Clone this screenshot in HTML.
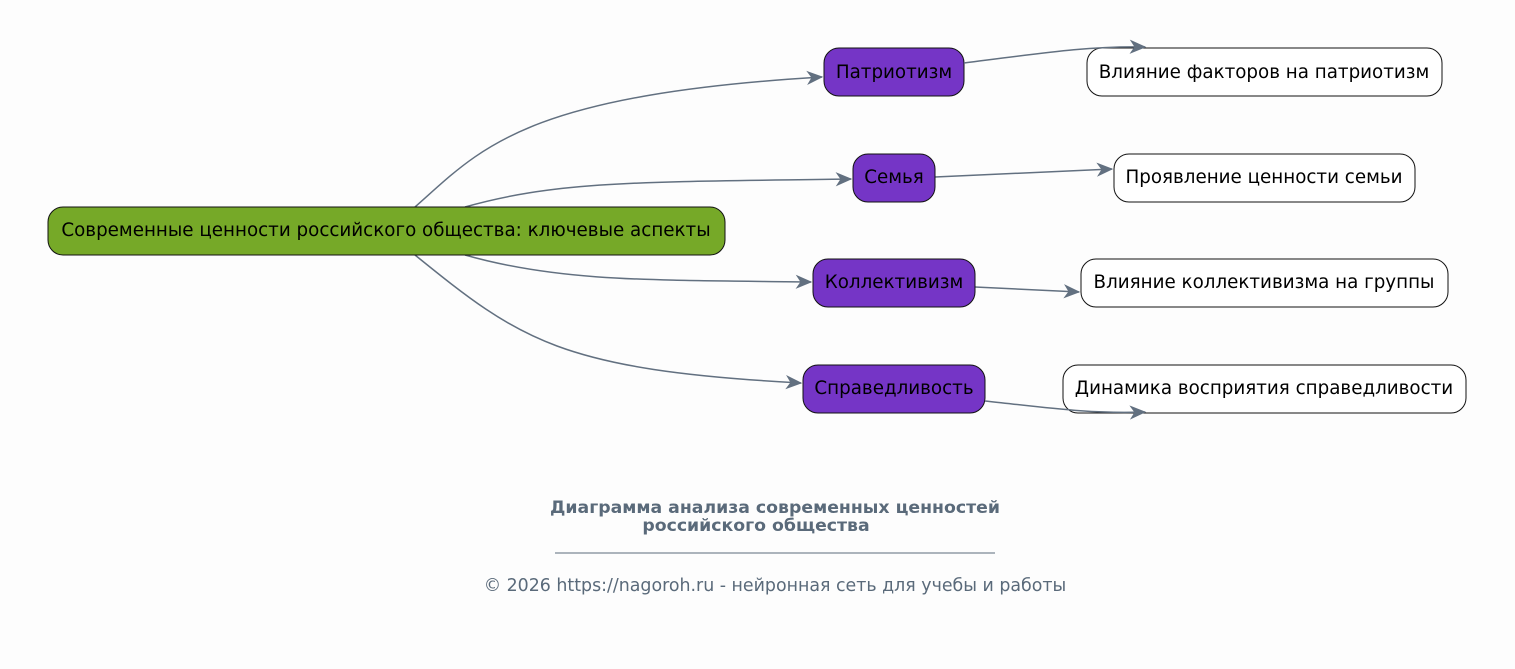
<!DOCTYPE html>
<html><head><meta charset="utf-8"><style>
html,body{margin:0;padding:0;background:#fdfdfd;}
svg{display:block;font-family:"DejaVu Sans","Liberation Sans",sans-serif;}
</style></head><body>
<svg width="1515" height="669" viewBox="0 0 1515 669" xmlns="http://www.w3.org/2000/svg">
<defs>
<marker id="a" markerWidth="18" markerHeight="16" refX="16" refY="8" orient="auto" markerUnits="userSpaceOnUse">
<path d="M2,2 L16,8 L2,14 L6,8 Z" fill="#627080" stroke="#627080" stroke-width="1"/>
</marker>
</defs>
<g fill="none" stroke="#627080" stroke-width="1.5" marker-end="url(#a)">
<path d="M415,207 C480,150 520,95 822,77"/>
<path d="M465,207 C560,180 650,182 851,179"/>
<path d="M465,255 C560,282 650,280 811,282"/>
<path d="M415,255 C520,340 560,370 801,383"/>
<path d="M935,177 L1112,169"/>
<path d="M975,287 L1079,292"/>
</g>
<g stroke="#111" stroke-width="1">
<rect x="48" y="207" width="677" height="48" rx="15" fill="#76a928"/>
<rect x="824" y="48" width="140" height="48" rx="15" fill="#7535c6"/>
<rect x="853" y="154" width="82" height="48" rx="15" fill="#7535c6"/>
<rect x="813" y="259" width="162" height="48" rx="15" fill="#7535c6"/>
<rect x="803" y="365" width="182" height="48" rx="15" fill="#7535c6"/>
<rect x="1087" y="48" width="355" height="48" rx="15" fill="#fff"/>
<rect x="1114" y="154" width="301" height="48" rx="15" fill="#fff"/>
<rect x="1081" y="259" width="367" height="48" rx="15" fill="#fff"/>
<rect x="1063" y="365" width="403" height="48" rx="15" fill="#fff"/>
</g>
<g fill="none" stroke="#627080" stroke-width="1.5" marker-end="url(#a)">
<path d="M964,63 C1050,52 1090,46 1145,47"/>
<path d="M985,401 C1050,408 1090,414 1145,412"/>
</g>
<g font-size="18.3" fill="#000" text-anchor="middle">
<text x="386" y="236">Современные ценности российского общества: ключевые аспекты</text>
<text x="894" y="78">Патриотизм</text>
<text x="894" y="183">Семья</text>
<text x="894" y="288">Коллективизм</text>
<text x="894" y="394">Справедливость</text>
<text x="1264" y="78">Влияние факторов на патриотизм</text>
<text x="1264" y="183">Проявление ценности семьи</text>
<text x="1264" y="288">Влияние коллективизма на группы</text>
<text x="1264" y="394">Динамика восприятия справедливости</text>
</g>
<g fill="#5a6a7a" text-anchor="middle">
<text x="775" y="513" font-size="17.3" font-weight="bold">Диаграмма анализа современных ценностей</text>
<text x="756" y="531" font-size="17.3" font-weight="bold">российского общества</text>
<line x1="555" y1="553" x2="995" y2="553" stroke="#5a6a7a" stroke-width="1"/>
<text x="775" y="591" font-size="17.4">© 2026 https://nagoroh.ru - нейронная сеть для учебы и работы</text>
</g>
</svg>
</body></html>
